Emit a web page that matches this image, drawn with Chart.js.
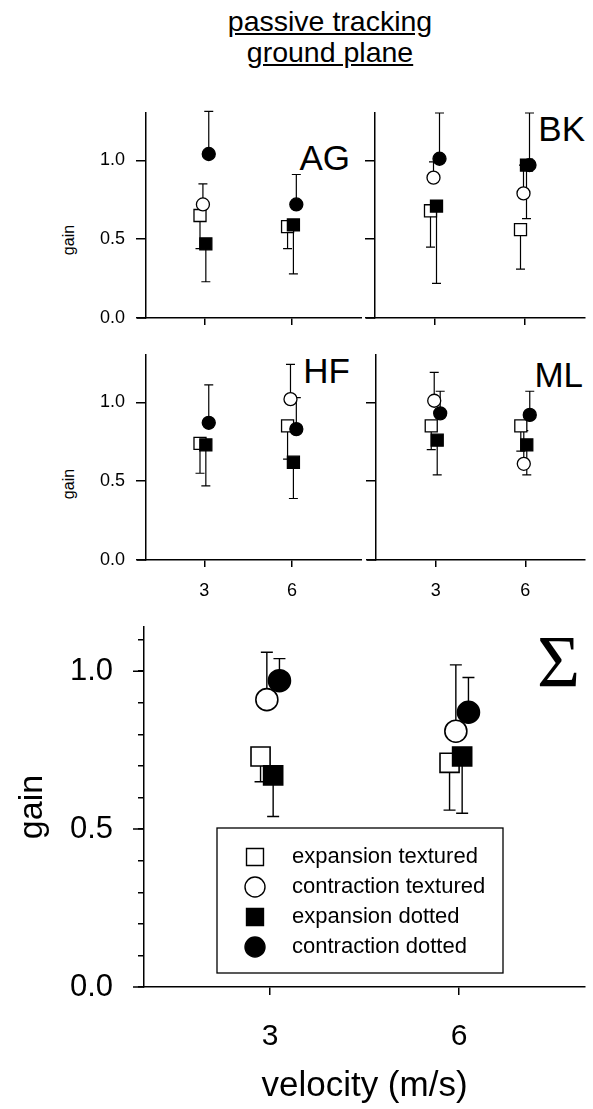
<!DOCTYPE html>
<html>
<head>
<meta charset="utf-8">
<script src="https://cdn.jsdelivr.net/npm/chart.js@4.4.0/dist/chart.umd.min.js"></script>
<style>
  body { margin: 0; width: 593px; height: 1109px; position: relative; overflow: hidden; background: #fff;
         font-family: "Liberation Sans", Arial, sans-serif; color: #000; }
  canvas, .txt { position: absolute; }
  .txt { line-height: 1; white-space: nowrap; }
  #title { left: 130px; top: 6px; width: 400px; text-align: center; font-size: 28.5px; line-height: 31px; text-decoration: underline; }
  .gain { font-size: 16px; transform: translate(-50%, -50%) rotate(-90deg); }
  .tag { font-size: 35px; }
  #sigma { font-family: "Liberation Serif", "DejaVu Serif", serif; font-size: 74px; right: 13px; top: 625px; }
</style>
</head>
<body>
<div class="txt" id="title">passive tracking<br>ground plane</div>
<div class="txt gain" style="left:69px; top:240px;">gain</div>
<div class="txt gain" style="left:69px; top:484px;">gain</div>
<div class="txt tag" style="right:243px; top:140px;">AG</div>
<div class="txt tag" style="right:8px; top:111px;">BK</div>
<div class="txt tag" style="right:243px; top:353px;">HF</div>
<div class="txt tag" style="right:10px; top:357px;">ML</div>
<div class="txt" id="sigma">Σ</div>
<canvas id="ag"></canvas>
<canvas id="bk"></canvas>
<canvas id="hf"></canvas>
<canvas id="ml"></canvas>
<canvas id="sum"></canvas>
<script>
// velocities on the x axis and the four stimulus conditions
const velocities = [3, 6];
const series = ["expansion textured", "contraction textured", "expansion dotted", "contraction dotted"];
const gainTicks = [0, 0.5, 1];
const sumTicks = [0, 0.1, 0.2, 0.3, 0.4, 0.5, 0.6, 0.7, 0.8, 0.9, 1.0, 1.1];

// gain per condition, in the order of `series`; *Err = where the error bar ends
const agAt3 = [0.65, 0.72, 0.47, 1.04];
const agAt6 = [0.58, null, 0.59, 0.72];
const agErr3 = [0.44, 0.85, 0.23, 1.31];
const agErr6 = [0.44, null, 0.28, 0.91];

const bkAt3 = [0.68, 0.89, 0.71, 1.01];
const bkAt6 = [0.56, 0.79, 0.97, 0.97];
const bkErr3 = [0.45, 0.99, 0.22, 1.30];
const bkErr6 = [0.31, 0.97, 0.63, 1.30];

const hfAt3 = [0.74, null, 0.73, 0.87];
const hfAt6 = [0.85, 1.02, 0.62, 0.83];
const hfErr3 = [0.55, null, 0.47, 1.11];
const hfErr6 = [0.64, 1.24, 0.39, 1.03];

const mlAt3 = [0.85, 1.01, 0.76, 0.93];
const mlAt6 = [0.85, 0.61, 0.73, 0.92];
const mlErr3 = [0.70, 1.19, 0.54, 1.07];
const mlErr6 = [0.69, 0.82, 0.54, 1.07];

const sumAt3 = [0.73, 0.91, 0.67, 0.97];
const sumAt6 = [0.71, 0.81, 0.73, 0.87];
const sumErr3 = [0.65, 1.06, 0.54, 1.04];
const sumErr6 = [0.56, 1.02, 0.55, 0.98];

// look of each condition
const shapes = ["rect", "circle", "rect", "circle"];
const fills = ["#fff", "#fff", "#000", "#000"];
const xShift = [-0.15, -0.05, 0.05, 0.15];
const drawOrder = [3, 0, 2, 1];

function marker(ctx, style, fill, x, y, r, lw) {
  ctx.beginPath();
  if (style === "rect") {
    const h = r * Math.SQRT1_2;
    ctx.rect(x - h, y - h, 2 * h, 2 * h);
  } else {
    ctx.arc(x, y, r, 0, Math.PI * 2);
  }
  ctx.fillStyle = fill;
  ctx.fill();
  ctx.lineWidth = lw;
  ctx.strokeStyle = "#000";
  ctx.stroke();
}

var errorBars = {
  id: "errorBars",
  beforeDatasetsDraw(chart, args, opts) {
    const { ctx } = chart;
    const y = chart.scales.y;
    ctx.save();
    ctx.strokeStyle = "#000";
    ctx.lineWidth = opts.width;
    chart.data.datasets.forEach((ds, d) => {
      chart.getDatasetMeta(d).data.forEach((pt, j) => {
        const end = ds.data[j].err;
        if (end == null) return;
        const ye = y.getPixelForValue(end);
        ctx.beginPath();
        ctx.moveTo(pt.x, pt.y);
        ctx.lineTo(pt.x, ye);
        ctx.moveTo(pt.x - opts.cap, ye);
        ctx.lineTo(pt.x + opts.cap, ye);
        ctx.stroke();
      });
    });
    ctx.restore();
  },
};

// little bits of axis: x line running past the y axis, longer major ticks
var axisBits = {
  id: "axisBits",
  afterDraw(chart, args, opts) {
    const { ctx, chartArea } = chart;
    ctx.save();
    ctx.strokeStyle = "#000";
    ctx.lineWidth = opts.width;
    ctx.beginPath();
    ctx.moveTo(chartArea.left - opts.stub, chartArea.bottom);
    ctx.lineTo(chartArea.left, chartArea.bottom);
    (opts.major || []).forEach((v) => {
      const py = chart.scales.y.getPixelForValue(v);
      ctx.moveTo(chartArea.left - opts.majorLength, py);
      ctx.lineTo(chartArea.left, py);
    });
    ctx.stroke();
    ctx.restore();
  },
};

var boxLegend = {
  id: "boxLegend",
  afterDraw(chart, args, o) {
    if (!o.show) return;
    const { ctx, chartArea } = chart;
    const x0 = chartArea.left + o.left;
    const y0 = chartArea.top + o.top;
    ctx.save();
    ctx.fillStyle = "#fff";
    ctx.fillRect(x0, y0, o.width, o.height);
    ctx.lineWidth = 1.3;
    ctx.strokeStyle = "#000";
    ctx.strokeRect(x0, y0, o.width, o.height);
    ctx.font = o.font;
    ctx.textBaseline = "middle";
    chart.data.datasets.forEach((ds, i) => {
      const cy = y0 + o.firstRow + i * o.rowGap;
      marker(ctx, ds.pointStyle, ds.pointBackgroundColor, x0 + o.markerX, cy,
             ds.pointStyle === "rect" ? o.sq : o.circ, o.lw);
      ctx.fillStyle = "#000";
      ctx.fillText(ds.label, x0 + o.textX, cy);
    });
    ctx.restore();
  },
};

// box = canvas [left, top, width, height] on the page, area = plot area [left, top, right, bottom]
function panel(id, box, area, p) {
  const cv = document.getElementById(id);
  cv.width = box[2];
  cv.height = box[3];
  cv.style.left = box[0] + "px";
  cv.style.top = box[1] + "px";

  const datasets = series.map((name, i) => ({
    label: name,
    data: velocities
      .map((v, k) => ({ x: v + xShift[i], y: p.at[k][i], err: p.err[k][i] }))
      .filter((pt) => pt.y != null),
    pointStyle: shapes[i],
    pointRadius: shapes[i] === "rect" ? p.sq : p.circ,
    pointHoverRadius: shapes[i] === "rect" ? p.sq : p.circ,
    pointBackgroundColor: fills[i],
    pointBorderColor: "#000",
    pointBorderWidth: p.lw,
    showLine: false,
    order: drawOrder[i],
  }));

  return new Chart(cv, {
    type: "scatter",
    data: { datasets },
    options: {
      responsive: false,
      animation: false,
      devicePixelRatio: 1,
      events: [],
      layout: {
        autoPadding: false,
        padding: { left: 0, bottom: 0, top: area[1] - box[1], right: box[0] + box[2] - area[2] },
      },
      plugins: {
        legend: { display: false },
        tooltip: { enabled: false },
        errorBars: { width: p.barWidth, cap: p.cap },
        axisBits: { width: p.axisWidth, stub: p.stub, major: p.major, majorLength: p.majorLength },
        boxLegend: p.legend || { show: false },
      },
      scales: {
        x: {
          type: "linear",
          min: 1,
          max: p.xMax,
          afterBuildTicks: (s) => { s.ticks = velocities.map((v) => ({ value: v })); },
          afterFit: (s) => {
            s.height = box[1] + box[3] - area[3];
            s.paddingLeft = s.paddingRight = 0;
          },
          ticks: {
            callback: (v) => (p.xLabels ? String(v) : ""),
            color: "#000",
            font: { family: "Liberation Sans, Arial, sans-serif", size: p.xFont },
            padding: p.xPad,
            maxRotation: 0,
            autoSkip: false,
          },
          grid: { drawOnChartArea: false, color: "#000", lineWidth: p.axisWidth, tickLength: p.xTick },
          border: { color: "#000", width: p.axisWidth },
          title: p.xTitle
            ? { display: true, text: p.xTitle, color: "#000",
                font: { family: "Liberation Sans, Arial, sans-serif", size: p.xTitleFont },
                padding: { top: 0, bottom: p.xTitlePad } }
            : { display: false },
        },
        y: {
          min: 0,
          max: p.yMax,
          afterBuildTicks: (s) => { s.ticks = p.yTicks.map((v) => ({ value: v })); },
          afterFit: (s) => {
            s.width = area[0] - box[0];
            s.paddingTop = s.paddingBottom = 0;
          },
          ticks: {
            callback: (v) => (p.yLabels && gainTicks.includes(v) ? v.toFixed(1) : ""),
            color: "#000",
            font: { family: "Liberation Sans, Arial, sans-serif", size: p.yFont },
            padding: p.yPad,
            autoSkip: false,
          },
          grid: { drawOnChartArea: false, color: "#000", lineWidth: p.axisWidth, tickLength: p.yTick },
          border: { color: "#000", width: p.axisWidth },
          title: p.yTitle
            ? { display: true, text: p.yTitle, color: "#000",
                font: { family: "Liberation Sans, Arial, sans-serif", size: p.yTitleFont },
                padding: { top: p.yTitlePad, bottom: 0 } }
            : { display: false },
        },
      },
    },
    plugins: [errorBars, axisBits, boxLegend],
  });
}

var small = {
  sq: 8.5, circ: 6.5, lw: 1.3, barWidth: 1.2, cap: 4.5, axisWidth: 1.5, stub: 9,
  yMax: 1.3, yTicks: gainTicks, yFont: 18, yPad: 11, yTick: 10,
  xFont: 18, xPad: 13, xTick: 7,
};

panel("ag", [40, 95, 322, 240], [146, 113, 362, 318],
  Object.assign({}, small, { at: [agAt3, agAt6], err: [agErr3, agErr6], xMax: 8.4, yLabels: true, xLabels: false }));
panel("bk", [362, 95, 231, 240], [375, 113, 585, 318],
  Object.assign({}, small, { at: [bkAt3, bkAt6], err: [bkErr3, bkErr6], xMax: 8, yLabels: false, xLabels: false }));
panel("hf", [40, 340, 322, 270], [146, 355, 362, 560],
  Object.assign({}, small, { at: [hfAt3, hfAt6], err: [hfErr3, hfErr6], xMax: 8.4, yLabels: true, xLabels: true }));
panel("ml", [362, 340, 231, 270], [376, 355, 585, 560],
  Object.assign({}, small, { at: [mlAt3, mlAt6], err: [mlErr3, mlErr6], xMax: 8, yLabels: false, xLabels: true }));

panel("sum", [0, 600, 593, 509], [144, 627, 585, 987], {
  at: [sumAt3, sumAt6], err: [sumErr3, sumErr6],
  sq: 13.5, circ: 11, lw: 1.6, barWidth: 1.4, cap: 6, axisWidth: 1.5, stub: 9,
  yMax: 1.14, yTicks: sumTicks, yLabels: true, yFont: 31, yPad: 25, yTick: 6,
  major: gainTicks, majorLength: 11,
  xMax: 8, xLabels: true, xFont: 30, xPad: 24, xTick: 8,
  xTitle: "velocity (m/s)", xTitleFont: 35, xTitlePad: 2,
  yTitle: "gain", yTitleFont: 34, yTitlePad: 12,
  legend: { show: true, left: 73, top: 201, width: 286, height: 145, firstRow: 29, rowGap: 30,
            markerX: 38, textX: 75, font: "22px Liberation Sans, Arial, sans-serif", sq: 12, circ: 10, lw: 1.4 },
});
</script>
</body>
</html>
